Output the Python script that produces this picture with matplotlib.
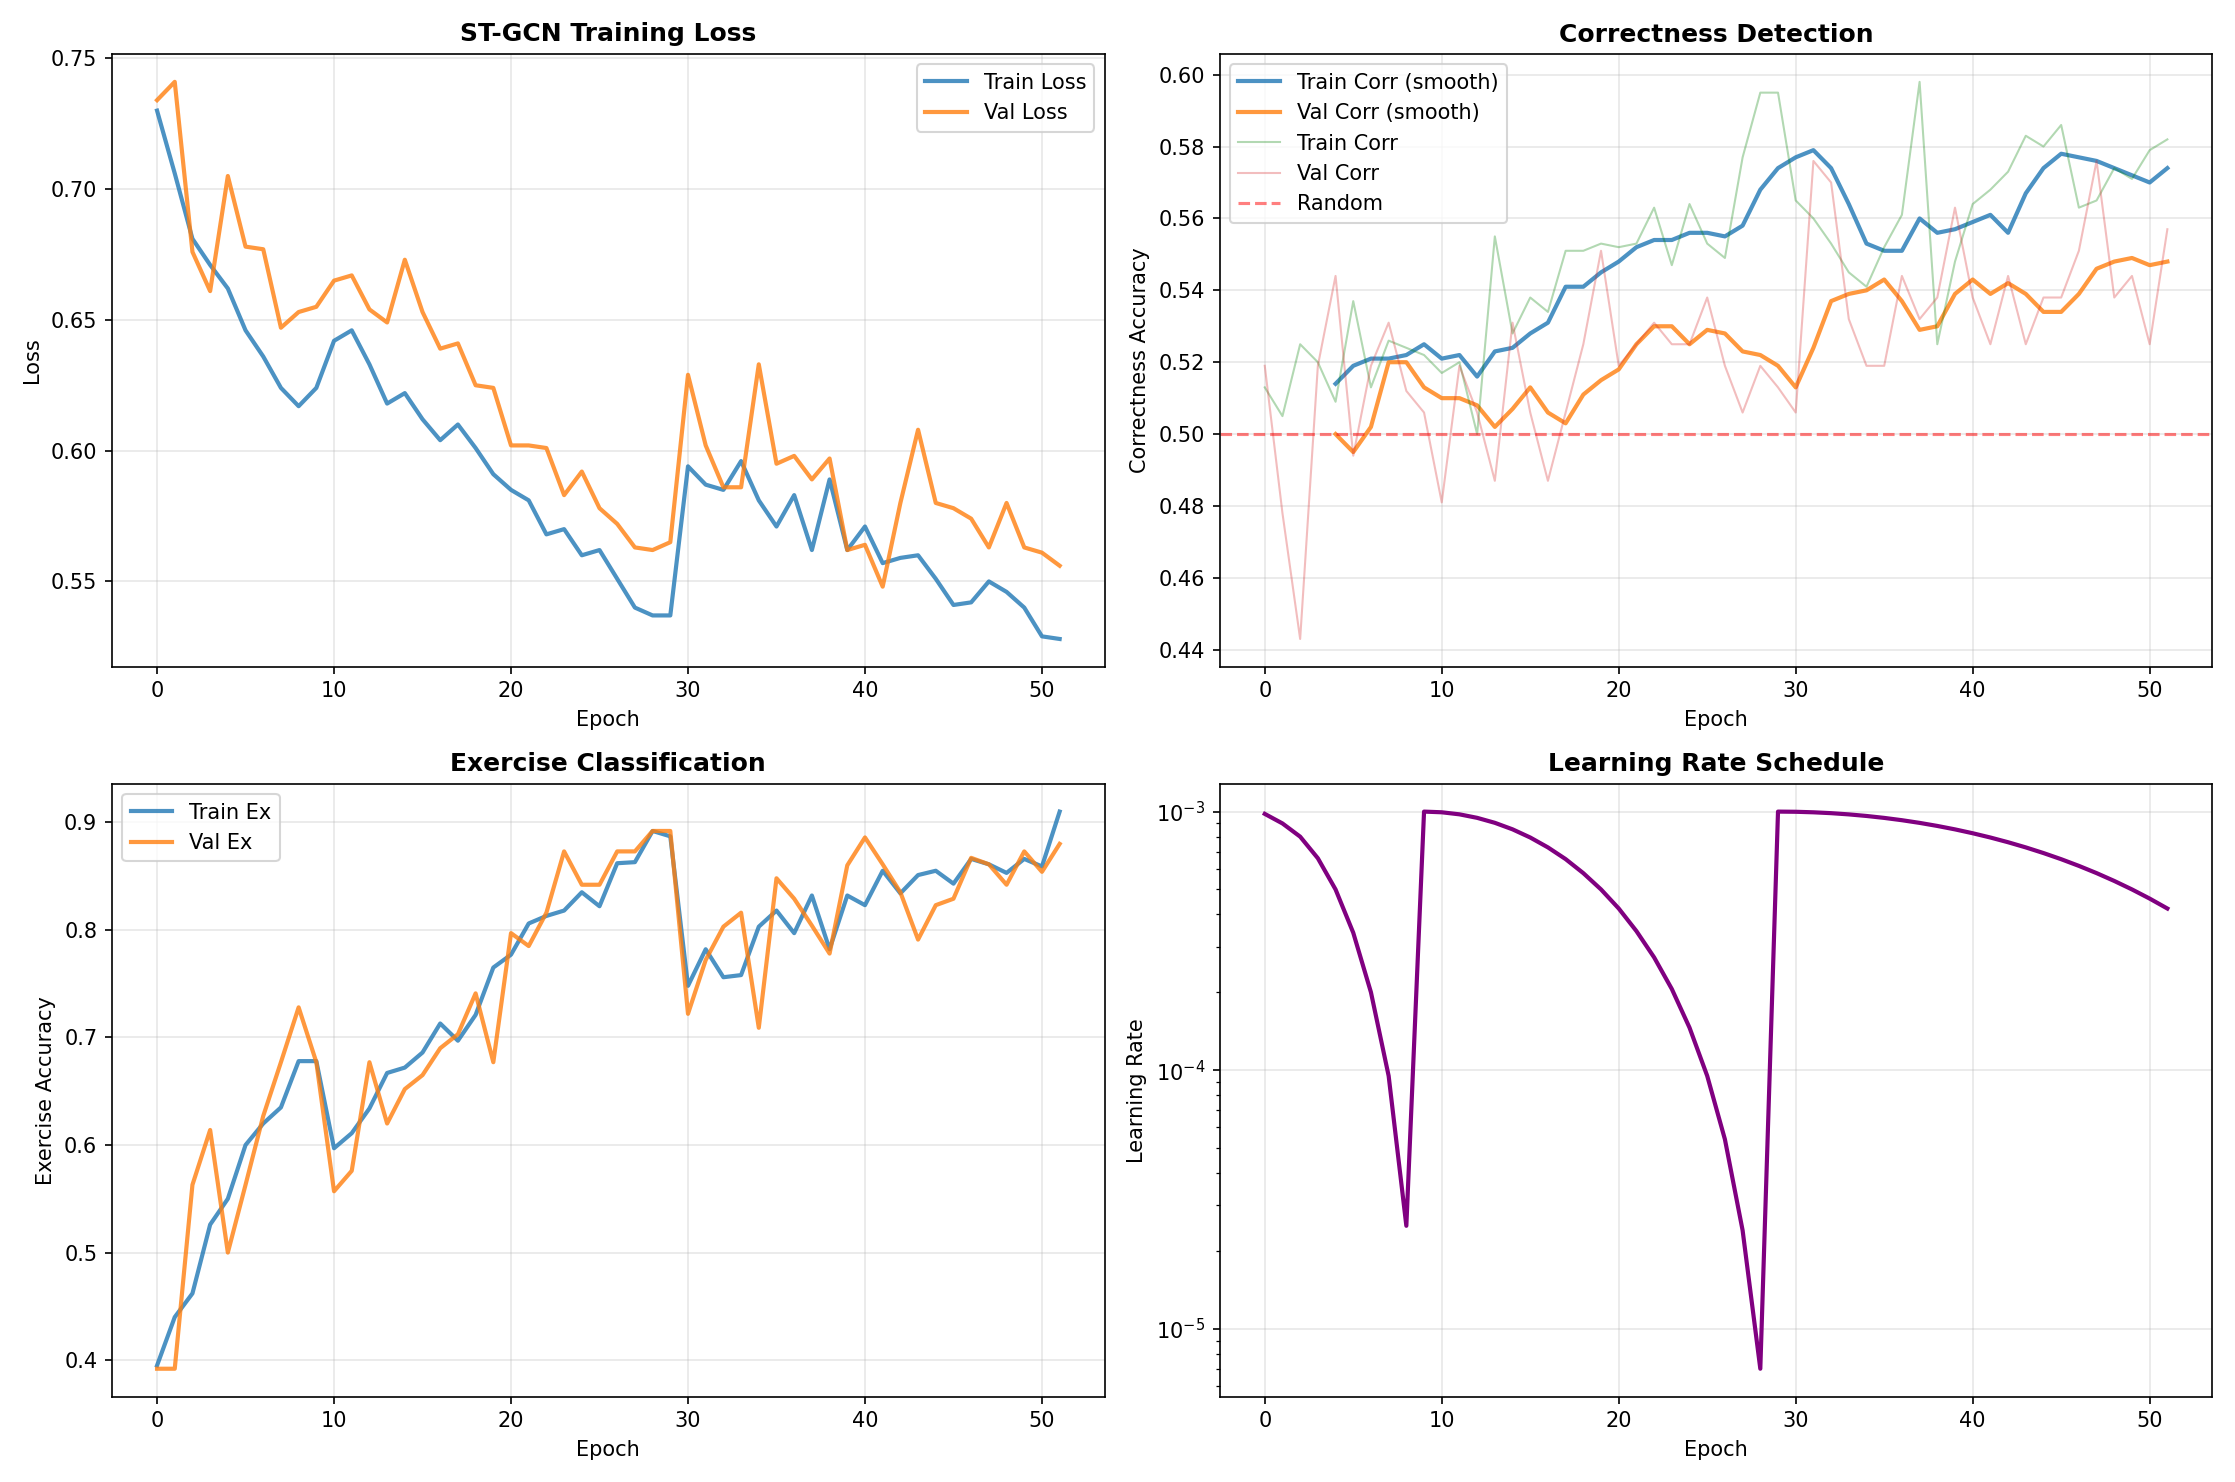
import numpy as np
import matplotlib
matplotlib.use("Agg")
from matplotlib import pyplot as plt

epochs = np.arange(52)

train_loss = [0.730, 0.706, 0.681, 0.671, 0.662, 0.646, 0.636, 0.624, 0.617, 0.624, 0.642, 0.646, 0.633, 0.618,
              0.622, 0.612, 0.604, 0.610, 0.601, 0.591, 0.585, 0.581, 0.568, 0.570, 0.560, 0.562, 0.551, 0.540,
              0.537, 0.537, 0.594, 0.587, 0.585, 0.596, 0.581, 0.571, 0.583, 0.562, 0.589, 0.562, 0.571, 0.557,
              0.559, 0.560, 0.551, 0.541, 0.542, 0.550, 0.546, 0.540, 0.529, 0.528]
val_loss = [0.734, 0.741, 0.676, 0.661, 0.705, 0.678, 0.677, 0.647, 0.653, 0.655, 0.665, 0.667, 0.654, 0.649,
            0.673, 0.653, 0.639, 0.641, 0.625, 0.624, 0.602, 0.602, 0.601, 0.583, 0.592, 0.578, 0.572, 0.563,
            0.562, 0.565, 0.629, 0.602, 0.586, 0.586, 0.633, 0.595, 0.598, 0.589, 0.597, 0.562, 0.564, 0.548,
            0.580, 0.608, 0.580, 0.578, 0.574, 0.563, 0.580, 0.563, 0.561, 0.556]

train_corr = [0.513, 0.505, 0.525, 0.520, 0.509, 0.537, 0.513, 0.526, 0.524, 0.522, 0.517, 0.520, 0.500, 0.555,
              0.528, 0.538, 0.534, 0.551, 0.551, 0.553, 0.552, 0.553, 0.563, 0.547, 0.564, 0.553, 0.549, 0.577,
              0.595, 0.595, 0.565, 0.560, 0.553, 0.545, 0.541, 0.552, 0.561, 0.598, 0.525, 0.548, 0.564, 0.568,
              0.573, 0.583, 0.580, 0.586, 0.563, 0.565, 0.574, 0.571, 0.579, 0.582]
val_corr = [0.519, 0.478, 0.443, 0.519, 0.544, 0.494, 0.519, 0.531, 0.512, 0.506, 0.481, 0.519, 0.506, 0.487,
            0.531, 0.506, 0.487, 0.506, 0.525, 0.551, 0.519, 0.525, 0.531, 0.525, 0.525, 0.538, 0.519, 0.506,
            0.519, 0.513, 0.506, 0.576, 0.570, 0.532, 0.519, 0.519, 0.544, 0.532, 0.538, 0.563, 0.538, 0.525,
            0.544, 0.525, 0.538, 0.538, 0.551, 0.576, 0.538, 0.544, 0.525, 0.557]
smooth_epochs = np.arange(4, 52)
train_corr_smooth = [0.514, 0.519, 0.521, 0.521, 0.522, 0.525, 0.521, 0.522, 0.516, 0.523, 0.524, 0.528, 0.531,
                     0.541, 0.541, 0.545, 0.548, 0.552, 0.554, 0.554, 0.556, 0.556, 0.555, 0.558, 0.568, 0.574,
                     0.577, 0.579, 0.574, 0.564, 0.553, 0.551, 0.551, 0.560, 0.556, 0.557, 0.559, 0.561, 0.556,
                     0.567, 0.574, 0.578, 0.577, 0.576, 0.574, 0.572, 0.570, 0.574]
val_corr_smooth = [0.500, 0.495, 0.502, 0.520, 0.520, 0.513, 0.510, 0.510, 0.508, 0.502, 0.507, 0.513, 0.506,
                   0.503, 0.511, 0.515, 0.518, 0.525, 0.530, 0.530, 0.525, 0.529, 0.528, 0.523, 0.522, 0.519,
                   0.513, 0.524, 0.537, 0.539, 0.540, 0.543, 0.537, 0.529, 0.530, 0.539, 0.543, 0.539, 0.542,
                   0.539, 0.534, 0.534, 0.539, 0.546, 0.548, 0.549, 0.547, 0.548]

train_ex = [0.395, 0.440, 0.462, 0.526, 0.550, 0.600, 0.620, 0.635, 0.678, 0.678, 0.597, 0.611, 0.634, 0.667,
            0.672, 0.686, 0.713, 0.697, 0.721, 0.765, 0.777, 0.806, 0.813, 0.818, 0.835, 0.822, 0.862, 0.863,
            0.892, 0.887, 0.748, 0.782, 0.756, 0.758, 0.803, 0.818, 0.797, 0.832, 0.782, 0.832, 0.823, 0.855,
            0.834, 0.851, 0.855, 0.843, 0.866, 0.861, 0.853, 0.866, 0.859, 0.910]
val_ex = [0.392, 0.392, 0.563, 0.614, 0.500, 0.563, 0.627, 0.677, 0.728, 0.677, 0.557, 0.576, 0.677, 0.620,
          0.652, 0.665, 0.690, 0.703, 0.741, 0.677, 0.797, 0.785, 0.816, 0.873, 0.842, 0.842, 0.873, 0.873,
          0.892, 0.892, 0.722, 0.772, 0.803, 0.816, 0.709, 0.848, 0.829, 0.804, 0.778, 0.860, 0.886, 0.861,
          0.835, 0.791, 0.823, 0.829, 0.867, 0.861, 0.842, 0.873, 0.854, 0.880]

# learning rate in units of 1e-3
lr_e3 = [0.98, 0.90, 0.80, 0.66, 0.50, 0.34, 0.20, 0.095, 0.025,
         1.0, 0.994, 0.976, 0.946, 0.905, 0.854, 0.794, 0.727, 0.655, 0.578, 0.5, 0.422, 0.345, 0.273, 0.206,
         0.146, 0.095, 0.054, 0.024, 0.007,
         1.0, 0.9985, 0.9938, 0.9862, 0.9755, 0.9619, 0.9455, 0.9263, 0.9045, 0.8802, 0.8536, 0.8247, 0.7939,
         0.7612, 0.7270, 0.6913, 0.6545, 0.6167, 0.5782, 0.5392, 0.5, 0.4608, 0.4218]
lr = np.array(lr_e3) * 1e-3

fig, axes = plt.subplots(2, 2, figsize=(14.9, 9.88), dpi=150)

ax = axes[0, 0]
ax.plot(epochs, train_loss, lw=2, alpha=0.8, label="Train Loss")
ax.plot(epochs, val_loss, lw=2, alpha=0.8, label="Val Loss")
ax.set_title("ST-GCN Training Loss", fontweight="bold")
ax.set_xlabel("Epoch")
ax.set_ylabel("Loss")
ax.legend()
ax.grid(alpha=0.3)

ax = axes[0, 1]
ax.plot(smooth_epochs, train_corr_smooth, lw=2, alpha=0.8, label="Train Corr (smooth)")
ax.plot(smooth_epochs, val_corr_smooth, lw=2, alpha=0.8, label="Val Corr (smooth)")
ax.plot(epochs, train_corr, color="green", lw=1, alpha=0.3, label="Train Corr")
ax.plot(epochs, val_corr, color="#d62728", lw=1, alpha=0.3, label="Val Corr")
ax.axhline(0.5, color="red", ls="--", alpha=0.5, label="Random")
ax.set_title("Correctness Detection", fontweight="bold")
ax.set_xlabel("Epoch")
ax.set_ylabel("Correctness Accuracy")
ax.legend(loc="upper left")
ax.grid(alpha=0.3)

ax = axes[1, 0]
ax.plot(epochs, train_ex, lw=2, alpha=0.8, label="Train Ex")
ax.plot(epochs, val_ex, lw=2, alpha=0.8, label="Val Ex")
ax.set_title("Exercise Classification", fontweight="bold")
ax.set_xlabel("Epoch")
ax.set_ylabel("Exercise Accuracy")
ax.legend(loc="upper left")
ax.grid(alpha=0.3)

ax = axes[1, 1]
ax.plot(epochs, lr, color="purple", lw=2)
ax.set_yscale("log")
ax.set_title("Learning Rate Schedule", fontweight="bold")
ax.set_xlabel("Epoch")
ax.set_ylabel("Learning Rate")
ax.grid(alpha=0.3)

plt.tight_layout()
plt.savefig("out.png")
